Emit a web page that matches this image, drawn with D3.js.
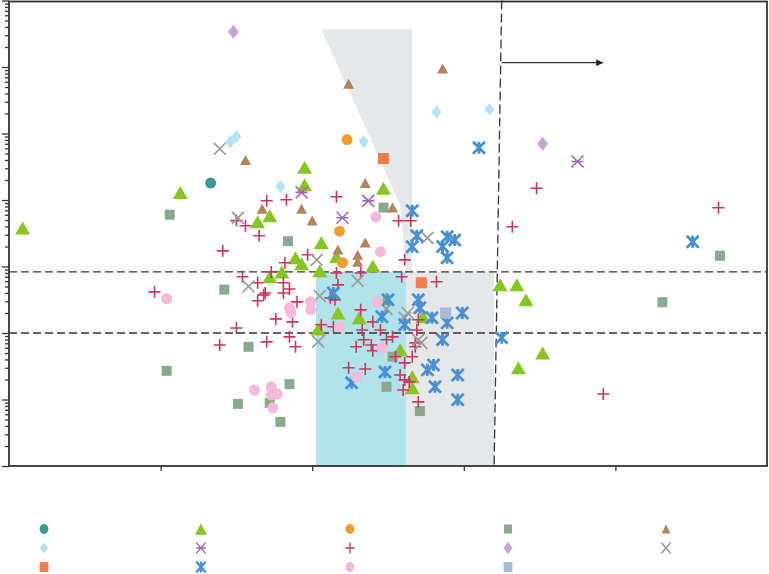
<!DOCTYPE html>
<html><head><meta charset="utf-8">
<script src="https://cdn.jsdelivr.net/npm/d3@7"></script>
<style>html,body{margin:0;padding:0;background:#fff;}svg{display:block;}</style>
</head><body><svg id="c" width="769" height="574"></svg>
<script>
// ---------- data ----------
const xTicks = [1, 2, 3, 4];
const hLines = [100, 830];
const tealCircle = [[1.33, 18000]];
const greenTriangle = [[0.09,3800],[1.13,13000],[1.95,31000],[1.95,17000],[2.47,15000],[1.64,4700],[1.72,5800],[2.06,2300],[1.89,1350],[1.93,1100],[2.16,1400],[2.40,1020],[2.05,860],[1.80,830],[1.72,700],[3.24,530],[3.35,530],[3.41,315],[2.73,175],[2.17,200],[2.31,170],[2.04,115],[2.58,56],[3.52,50],[3.36,30],[2.66,22],[2.66,15],[2.49,330]];
const orangeCircle = [[2.23,81000],[2.18,3400],[2.20,1140]];
const sageSquare = [[1.06,6000],[1.84,2400],[2.47,7700],[1.42,450],[1.58,62],[1.04,27],[1.51,8.6],[1.72,8.9],[1.79,4.6],[1.85,17],[2.53,44],[2.49,15.5],[2.71,6.7],[4.69,1450],[4.31,290]];
const brownTriangle = [[2.86,950000],[2.24,560000],[1.56,40000],[2.35,18000],[1.93,7400],[2.53,7700],[2.00,4900],[1.67,7400],[2.17,1800],[2.35,2300],[2.30,1500],[2.30,1180]];
const skyDiamond = [[2.82,210000],[3.17,230000],[2.34,75000],[1.79,16000],[1.46,75000],[1.50,90000]];
const purpleStar = [[3.75,38000],[1.93,13000],[2.37,9700],[2.20,5400]];
const redPlus = [[3.48,15000],[4.68,7650],[3.32,3960],[3.92,12.1],[2.82,590],[1.70,9750],[1.83,10100],[2.16,11200],[2.57,4880],[2.65,4880],[1.65,2900],[1.56,4100],[1.41,1720],[1.54,700],[1.64,570],[1.73,830],[1.82,1140],[1.97,1500],[2.61,1260],[2.16,800],[2.32,800],[2.59,700],[1.69,400],[1.64,305],[1.81,570],[1.81,400],[1.85,460],[1.90,294],[2.17,530],[2.12,338],[2.15,315],[2.32,223],[1.76,163],[1.87,147],[1.85,87.5],[1.89,62],[1.70,73.6],[2.06,133],[2.14,124],[2.33,111],[2.40,147],[2.45,111],[2.53,87.5],[2.34,79],[2.29,62],[2.39,66],[2.49,79],[2.68,62],[2.66,44],[2.61,35.5],[2.58,23.4],[2.61,19.7],[2.64,18.4],[2.60,13.9],[2.70,9.2],[2.24,30],[2.35,28.8],[2.70,158],[2.69,111],[2.68,71],[2.55,44],[0.96,416],[1.50,119],[1.39,66],[1.68,375],[2.40,54],[1.50,4900]];
const lilacDiamond = [[1.48,3400000],[3.52,70000]];
const grayX = [[1.39,59000],[1.51,5400],[2.03,1260],[2.30,610],[1.58,500],[2.05,360],[2.04,74],[2.76,2700],[2.49,230],[2.63,200],[2.61,169],[2.70,79],[2.72,71]];
const orangeSquare = [[2.47,42000],[2.72,570]];
const blueStar = [[3.10,61000],[4.51,2350],[2.66,6900],[2.69,2900],[2.66,1980],[2.89,2800],[2.94,2500],[2.86,2000],[2.89,1350],[2.14,400],[2.50,315],[2.70,315],[2.71,240],[2.79,169],[2.89,142],[2.99,200],[2.46,175],[2.61,133],[2.86,79],[3.25,84.5],[2.26,17.8],[2.48,26],[2.76,27.9],[2.80,33],[2.81,15.5],[2.96,23.4],[2.96,9.9]];
const pinkCircle = [[1.04,330],[2.42,5600],[2.45,1670],[1.99,294],[1.99,223],[1.85,239],[1.86,201],[2.18,124],[2.43,294],[2.46,60],[2.29,22],[1.62,13.9],[1.73,15.5],[1.77,12.1],[1.73,11.7],[1.74,7.5]];
const steelSquare = [[2.88,200]];
// shaded regions (data units)
const cyanRegion = [[2.025,1],[2.62,1],[2.62,830],[2.025,830]];
const grayLower = [[2.62,1],[3.20,1],[3.20,830],[2.62,830]];
const grayUpper = [[2.06,3.7e6],[2.66,3.7e6],[2.66,830],[2.62,830],[2.58,8500]];
const vLine = [[3.25,1e7],[3.20,1]];
const arrowLine = [[3.25,1.16e6],[3.92,1.16e6]];

// ---------- layout ----------
const L = 9, R = 767, T = 0.5, B = 466;
const svg = d3.select("#c");
const x = d3.scaleLinear().domain([0,5]).range([L,R]);
const y = d3.scaleLog().domain([1,1e7]).range([B,T]);

// regions
const area = d3.line().x(d=>x(d[0])).y(d=>y(d[1]));
svg.append("path").attr("d", area(grayUpper)+"Z").attr("fill","#e6e7e8");
svg.append("path").attr("d", area(grayLower)+"Z").attr("fill","#e6e7e8");
svg.append("path").attr("d", area(cyanRegion)+"Z").attr("fill","#b0e3ea");

// dashed lines
hLines.forEach(v=>{
  svg.append("line").attr("x1",L).attr("x2",R).attr("y1",y(v)).attr("y2",y(v))
    .attr("stroke","#333").attr("stroke-width",1.3).attr("stroke-dasharray","8,4");
});
svg.append("path").attr("d", area(vLine)).attr("stroke","#333").attr("stroke-width",1.3)
  .attr("stroke-dasharray","9,4").attr("fill","none");
// arrow
svg.append("defs").append("marker").attr("id","ah").attr("viewBox","0 0 10 10")
  .attr("refX",10).attr("refY",5).attr("markerWidth",10).attr("markerHeight",7)
  .attr("markerUnits","userSpaceOnUse").attr("orient","auto")
  .append("path").attr("d","M0,0L10,5L0,10Z").attr("fill","#222");
svg.append("path").attr("d", area(arrowLine)).attr("stroke","#333").attr("stroke-width",1.3)
  .attr("fill","none").attr("marker-end","url(#ah)");

// ---------- markers ----------
function tri(w,h){return `M0,${-h/2}L${w/2},${h/2}L${-w/2},${h/2}Z`;}
function sq(w,h){return `M${-w/2},${-h/2}h${w}v${h}h${-w}Z`;}
function dia(w,h){return `M0,${-h/2}L${w/2},0L0,${h/2}L${-w/2},0Z`;}
function circ(r){return `M${r},0A${r},${r} 0 1,1 ${-r},0A${r},${r} 0 1,1 ${r},0Z`;}
function plus(s){return `M${-s},0H${s}M0,${-s}V${s}`;}
function ex(s){return `M${-s},${-s}L${s},${s}M${-s},${s}L${s},${-s}`;}
const styles = [
  {data: tealCircle, d: circ(5.5), fill:"#3a9a94"},
  {data: greenTriangle, d: tri(15,13), fill:"#86c524"},
  {data: orangeCircle, d: circ(5.5), fill:"#f39c2f"},
  {data: sageSquare, d: sq(10,10), fill:"#88a98b"},
  {data: brownTriangle, d: tri(11,10), fill:"#b5835a"},
  {data: skyDiamond, d: dia(10,13), fill:"#b3e1f5"},
  {data: purpleStar, d: ex(6)+`M-6,0H6`, stroke:"#a466b8", sw:1.6},
  {data: redPlus, d: plus(6), stroke:"#c8385e", sw:1.6},
  {data: lilacDiamond, d: dia(11,14), fill:"#c9a4d4"},
  {data: grayX, d: ex(6), stroke:"#9a9a9a", sw:1.7},
  {data: orangeSquare, d: sq(11,11), fill:"#f47c4a"},
  {data: blueStar, d: ex(6)+`M0,-6V6`, stroke:"#4a8fd4", sw:2.8},
  {data: pinkCircle, d: circ(5.5), fill:"#f5b9dc"},
  {data: steelSquare, d: sq(11,11), fill:"#aab9d3"}
];
styles.forEach(s=>{
  svg.append("g").selectAll("path").data(s.data).join("path")
    .attr("transform", d=>`translate(${x(d[0])},${y(d[1])})`)
    .attr("d", s.d)
    .attr("fill", s.fill || "none")
    .attr("stroke", s.stroke || "none")
    .attr("stroke-width", s.sw || 0);
});

// ---------- axes / frame ----------
const yAxis = d3.axisLeft(y).tickFormat("").tickSizeOuter(0).tickSize(4);
const gy = svg.append("g").attr("transform",`translate(${L},0)`).call(yAxis);
gy.selectAll(".tick line").attr("x2", d => Math.abs(Math.log10(d) - Math.round(Math.log10(d)))<1e-9 ? -7 : -4);
const xAxis = d3.axisBottom(x).tickValues(xTicks).tickFormat("").tickSize(5).tickSizeOuter(0);
svg.append("g").attr("transform",`translate(0,${B})`).call(xAxis);
svg.selectAll(".domain").attr("stroke","none");
svg.selectAll(".tick line").attr("stroke","#333").attr("stroke-width",1.3);
svg.append("rect").attr("x",L).attr("y",T+1).attr("width",R-L).attr("height",B-T-1)
  .attr("fill","none").attr("stroke","#333").attr("stroke-width",1.8);

// ---------- legend ----------
const legCols = [44, 201, 350, 508, 666], legRows = [529, 548, 567];
styles.forEach((s,i)=>{
  const cx = legCols[i%5], cy = legRows[Math.floor(i/5)];
  svg.append("path").attr("transform",`translate(${cx},${cy}) scale(0.8,0.9)`)
    .attr("d", s.d).attr("fill", s.fill||"none").attr("stroke", s.stroke||"none")
    .attr("stroke-width", s.sw||0);
});
</script></body></html>
